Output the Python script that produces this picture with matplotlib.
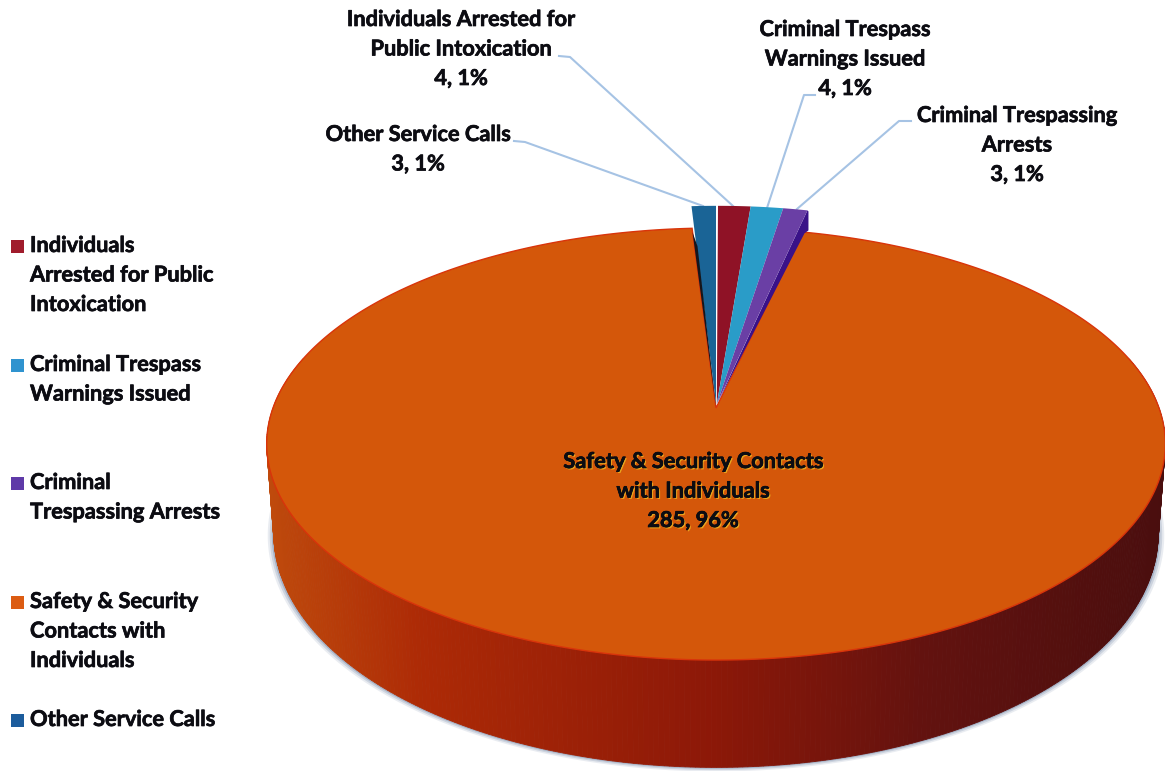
"""
Exploded 3D-style pie of campus safety contacts, with leader-line labels
and a stacked legend on the left. Coordinates are pixels from the top left.
"""

import numpy as np
import matplotlib
matplotlib.use('Agg')
import matplotlib.pyplot as plt
from matplotlib.colors import to_rgb
from matplotlib.patches import Polygon, Rectangle
import matplotlib.patheffects as pe

plt.rcParams['font.family'] = ['Lato', 'DejaVu Sans']

# Clockwise from twelve o'clock
CATEGORIES = ['Individuals Arrested for Public Intoxication',
              'Criminal Trespass Warnings Issued',
              'Criminal Trespassing Arrests',
              'Safety & Security Contacts with Individuals',
              'Other Service Calls']
VALUES = [4, 4, 3, 285, 3]
PERCENTS = [1, 1, 1, 96, 1]

LEGEND_LINES = [['Individuals', 'Arrested for Public', 'Intoxication'],
                ['Criminal Trespass', 'Warnings Issued'],
                ['Criminal', 'Trespassing Arrests'],
                ['Safety & Security', 'Contacts with', 'Individuals'],
                ['Other Service Calls']]
LABEL_LINES = [['Individuals Arrested for', 'Public Intoxication'],
               ['Criminal Trespass', 'Warnings Issued'],
               ['Criminal Trespassing', 'Arrests'],
               ['Safety & Security Contacts', 'with Individuals'],
               ['Other Service Calls']]

COLORS = ['#8f1226', '#2a9cc8', '#6a3fa5', '#d4570a', '#1a6496']
LEGEND_COLORS = ['#a01c2c', '#2f93cf', '#5f3aa8', '#dc5c12', '#1c5c9c']

LABEL_POS = [(461, 26), (845, 36), (1017, 122), (693, 468), (418, 141)]
LEADER_PATHS = [[(559, 56), (570, 57), (733, 206)],
                [(815, 95), (804, 95), (767, 208)],
                [(911, 121), (899, 121), (797, 209)],
                None,
                [(514, 141), (525, 142), (703, 206)]]
LEGEND_Y = [252, 371, 489, 608, 726]

CX, CY = 716.0, 408.0
PERSPECTIVE = 1 / 6
RX, RY = 443.0, 210.0
TEXT_COLOR = '#0c0c12'
HEAVY = [pe.withStroke(linewidth=0.5, foreground=TEXT_COLOR)]


def project(theta, radius=1.0, ry=RY, cy=CY, rx=RX, cx=CX):
    """Map polar position on the pie disc (clockwise from top) to the page."""
    u = radius * np.sin(theta)
    v = radius * np.cos(theta)
    w = 1 + PERSPECTIVE * v
    return cx + rx * u / w, cy - ry * v / w


def blend(a, b, t):
    return tuple((1 - t) * np.array(to_rgb(a)) + t * np.array(to_rgb(b)))


def side_color(x):
    """Rim shading from the lit left edge to the dark right edge."""
    stops = [(266, '#bf4a0c'), (420, '#ad2a06'), (716, '#8c1808'), (930, '#62120f'), (1165, '#4a0e0e')]
    for (x0, c0), (x1, c1) in zip(stops, stops[1:]):
        if x <= x1:
            return blend(c0, c1, (x - x0) / (x1 - x0))
    return to_rgb(stops[-1][1])


fig = plt.figure(figsize=(11.65, 7.71), dpi=100)
ax = fig.add_axes([0, 0, 1, 1])
ax.set_xlim(0, 1165)
ax.set_ylim(771, 0)
ax.axis('off')

fractions = np.array(VALUES) / sum(VALUES)
edges = np.concatenate([[0], np.cumsum(fractions)]) * 2 * np.pi
big = CATEGORIES.index('Safety & Security Contacts with Individuals')

# Soft shadow under the rim, then the rim of the large slice
t_big = np.linspace(edges[big], edges[big + 1], 600)
t_front = t_big[np.cos(t_big) < 0.25]
top_x, top_y = project(t_front)
low_x, low_y = project(t_front, ry=227.0, cy=495.0, rx=436.0)

for grow, alpha in [(6, 0.18), (4, 0.3), (2, 0.55)]:
    sx, sy = project(t_front, ry=227.0 + grow * 0.4, cy=495.0 + grow * 0.2, rx=436.0 + grow)
    ax.fill(sx, sy, color='#8a9ab5', alpha=alpha, lw=0, zorder=1)

for i in range(len(t_front) - 1):
    quad = [(top_x[i], top_y[i]), (top_x[i + 1], top_y[i + 1]),
            (low_x[i + 1], low_y[i + 1]), (low_x[i], low_y[i])]
    c = side_color((top_x[i] + top_x[i + 1]) / 2)
    ax.add_patch(Polygon(quad, closed=True, facecolor=c, edgecolor=c, lw=0.6, zorder=2))

# Top face of the large slice
xs, ys = project(t_big)
ax.add_patch(Polygon(np.column_stack([np.r_[CX, xs], np.r_[CY, ys]]), closed=True,
                     facecolor=COLORS[big], edgecolor='#d9340a', lw=1.0, zorder=3))

# Small slices pulled out toward the back
for i in range(len(VALUES)):
    if i == big:
        continue
    t = np.linspace(edges[i], edges[i + 1], 12)
    shift = 2.0 if i < big else 0.0
    ox, oy = project(t, radius=1.12, rx=RX * 0.93, ry=RY * 1.02)
    ax_x = np.r_[CX + shift * 0.4, ox + shift]
    ax_y = np.r_[CY - 4, oy]

    ax.add_patch(Polygon(np.column_stack([ax_x, ax_y]), closed=True,
                         facecolor=COLORS[i], edgecolor='none', zorder=5))

    # walls of the two outer slices
    if i == 2:
        wall = [(CX + 1, CY - 4), (ax_x[-1], ax_y[-1]), (ax_x[-1] + 1, ax_y[-1] + 1),
                (ax_x[-1] + 1, ax_y[-1] + 20), (ax_x[-1] - 3, ax_y[-1] + 23)]
        ax.add_patch(Polygon(wall, closed=True, facecolor='#3a1288', edgecolor='none', zorder=4))
    if i == len(VALUES) - 1:
        wall = [(CX, CY), (ax_x[1] + 1, ax_y[1] + 26), (ax_x[1] + 6, ax_y[1] + 40)]
        ax.add_patch(Polygon(wall, closed=True, facecolor='#15161c', edgecolor='none', zorder=6))

# Leader lines
for path in LEADER_PATHS:
    if path is None:
        continue
    px, py = zip(*path)
    ax.plot(px, py, color='#a6c3e4', lw=1.5, zorder=2)

# Data labels: name, then "value, percent"
for i, (x, y) in enumerate(LABEL_POS):
    lines = LABEL_LINES[i] + [f'{VALUES[i]}, {PERCENTS[i]}%']
    effects = HEAVY
    if i == big:
        effects = [pe.withSimplePatchShadow(offset=(1, -1), shadow_rgbFace='#eaa51e', alpha=1.0)] + HEAVY
    for j, line in enumerate(lines):
        ax.text(x, y + j * 29.5, line, ha='center', va='baseline', fontsize=15.7,
                fontweight='bold', color=TEXT_COLOR, zorder=7, path_effects=effects)

# Legend
for i, lines in enumerate(LEGEND_LINES):
    y = LEGEND_Y[i]
    ax.add_patch(Rectangle((11, y - 12), 13, 13, facecolor=LEGEND_COLORS[i], edgecolor='none'))
    for j, line in enumerate(lines):
        ax.text(30, y + j * 29.5, line, va='baseline', fontsize=15.7, fontweight='bold',
                color=TEXT_COLOR, zorder=7, path_effects=HEAVY)

fig.savefig('out.png', dpi=100)
